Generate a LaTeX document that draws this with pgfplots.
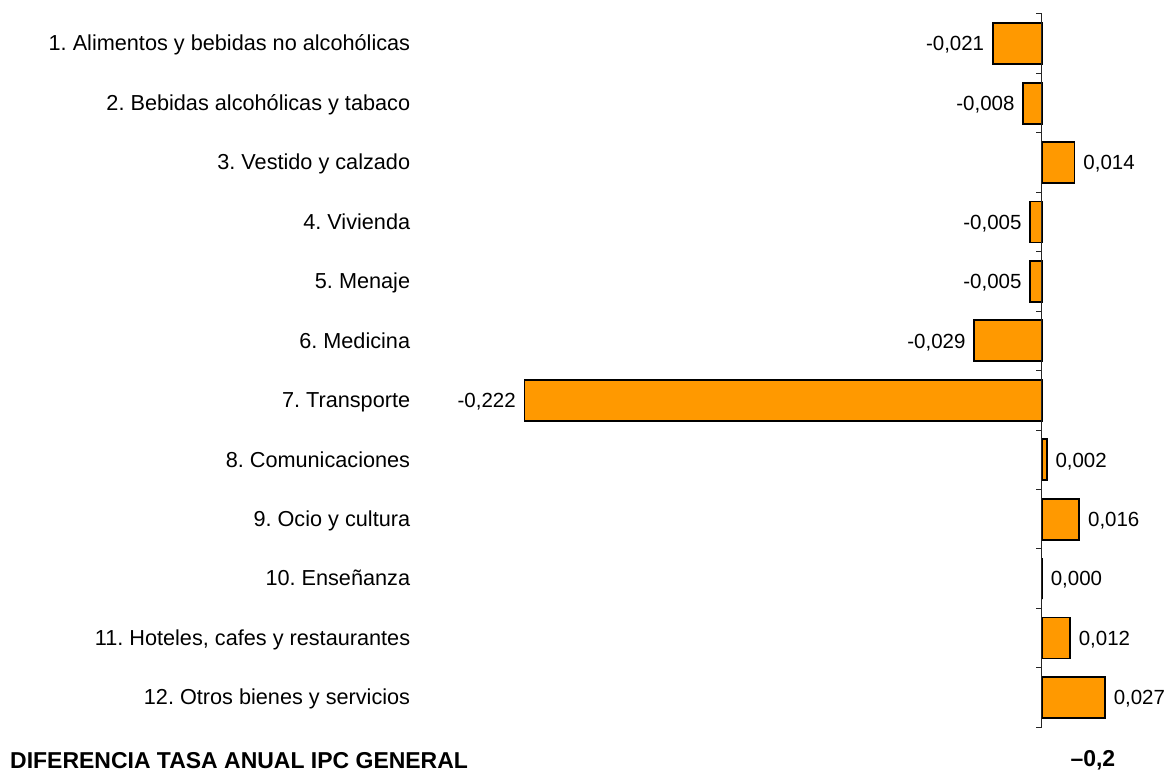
\documentclass[border=0pt]{standalone}
\usepackage{pgfplots}
\pgfplotsset{compat=1.18}
\usepackage{fontspec}
\setmainfont{Liberation Sans}
\frenchspacing
\definecolor{barorange}{RGB}{255,153,0}
\newcommand\labelfont{\fontsize{21.7}{26}\selectfont}
\newcommand\valfont{\fontsize{20.5}{24}\selectfont}
\newcommand\totfont{\fontsize{23}{27}\selectfont\bfseries}
\begin{document}
\begin{tikzpicture}
\begin{axis}[
  xbar, bar width=41pt, bar shift=0pt,
  scale only axis, width=759pt, height=714pt,
  xmin=-0.2696, xmax=0.0557, ymin=0.5, ymax=12.5,
  y dir=reverse,
  axis line style={draw=none},
  xtick=\empty,
  ytick={1,...,12},
  yticklabels={1. Alimentos y bebidas no alcohólicas,
    2. Bebidas alcohólicas y tabaco,
    3. Vestido y calzado,
    4. Vivienda,
    5. Menaje,
    6. Medicina,
    7. Transporte,
    8. Comunicaciones,
    9. Ocio y cultura,
    10. Enseñanza,
    11. Hoteles{,} cafes y restaurantes,
    12. Otros bienes y servicios},
  major tick length=0pt,
  yticklabel style={font=\labelfont, text height=1.5ex, text depth=0.25ex, yshift=-4pt},
  clip=false,
  nodes near coords={\pgfmathprintnumber[fixed,fixed zerofill,precision=3,use comma,assume math mode=true]{\pgfplotspointmeta}},
  nodes near coords align=horizontal,
  every node near coord/.append style={font=\valfont, inner sep=8pt, text=black,
    text height=1.5ex, text depth=0.25ex, yshift=-4pt},
]
\addplot[fill=barorange, draw=black, line width=1.8pt] coordinates {
  (-0.021,1) (-0.008,2) (0.014,3) (-0.005,4) (-0.005,5) (-0.029,6)
  (-0.222,7) (0.002,8) (0.016,9) (0.000,10) (0.012,11) (0.027,12)};
\draw[line width=1pt, black!85] (axis cs:0,0.5) -- (axis cs:0,12.5);
\pgfplotsinvokeforeach{0.5,1.5,...,12.5}{
  \draw[line width=1pt, black!85] (axis cs:0,#1) -- (axis cs:-0.00257,#1);
}
\node[anchor=west, font=\totfont, inner sep=0pt] at (axis cs:-0.4428,13.06) {DIFERENCIA TASA ANUAL IPC GENERAL};
\node[font=\totfont, inner sep=0pt] at (axis cs:0.02186,13.06) {–0,2};
\path (axis cs:-0.4471,0.2647) (axis cs:0.0557,13.239);
\end{axis}
\end{tikzpicture}
\end{document}
